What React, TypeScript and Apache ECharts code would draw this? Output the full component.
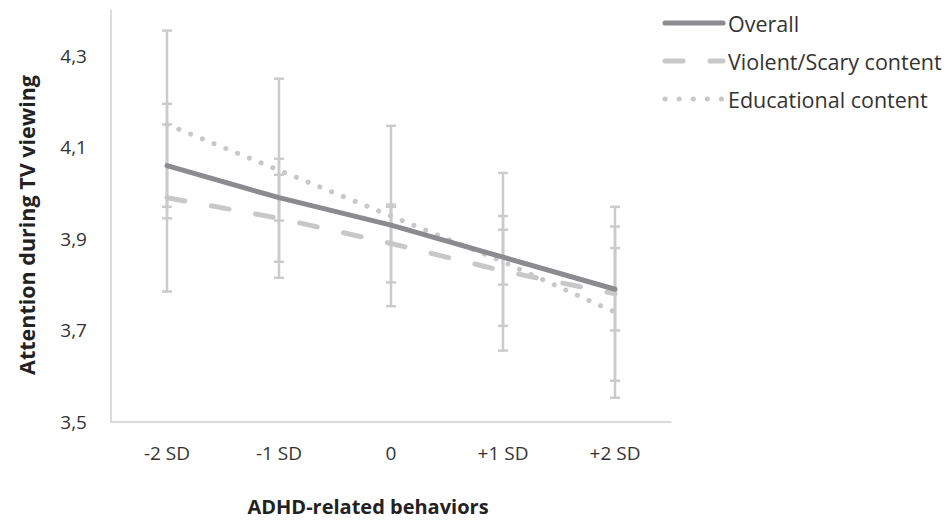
import React, { useEffect, useRef } from "react";
import * as echarts from "echarts";

const categories = ["-2 SD", "-1 SD", "0", "+1 SD", "+2 SD"];
const overallMean = [4.06, 3.99, 3.93, 3.86, 3.79];
const overallErr = [0.09, 0.05, 0.04, 0.06, 0.09];
const violentMean = [3.99, 3.945, 3.89, 3.83, 3.78];
const violentErr = [0.205, 0.13, 0.085, 0.12, 0.19];
const educMean = [4.15, 4.05, 3.95, 3.85, 3.74];
const educErr = [0.205, 0.2, 0.197, 0.194, 0.187];
const seriesNames = ["Overall", "Violent/Scary content", "Educational content"];
const xTitle = "ADHD-related behaviors";
const yTitle = "Attention during TV viewing";

const FONT = "'Open Sans', 'Noto Sans', sans-serif";
const TEXT_COLOR = "#333333";
const BAR_COLOR = "#cbcbcb";
const OVERALL_COLOR = "#8c8c90";
const VIOLENT_COLOR = "#c8c8c8";
const EDUC_COLOR = "#c8c8c8";
const VIOLENT_DASH = [18, 27];
const EDUC_DASH = [0.1, 12.6];

function errData(mean: number[], err: number[]) {
  return mean.map((m, i) => [i, m - err[i], m + err[i]]);
}

function errSeries(mean: number[], err: number[]) {
  return {
    type: "custom",
    z: 1,
    silent: true,
    data: errData(mean, err),
    renderItem: (params: any, api: any) => {
      const x = api.value(0);
      const lo = api.coord([x, api.value(1)]);
      const hi = api.coord([x, api.value(2)]);
      const hw = 5;
      const style = { stroke: BAR_COLOR, lineWidth: 2.5 };
      return {
        type: "group",
        children: [
          { type: "line", shape: { x1: lo[0], y1: lo[1], x2: hi[0], y2: hi[1] }, style },
          { type: "line", shape: { x1: lo[0] - hw, y1: lo[1], x2: lo[0] + hw, y2: lo[1] }, style },
          { type: "line", shape: { x1: hi[0] - hw, y1: hi[1], x2: hi[0] + hw, y2: hi[1] }, style },
        ],
      };
    },
  };
}

function legendItem(i: number, y: number, stroke: string, dash: number[] | null) {
  return [
    {
      type: "line",
      silent: true,
      shape: { x1: 665, y1: y, x2: 723, y2: y },
      style: { stroke, lineWidth: 5, lineCap: "round", lineDash: dash || undefined },
    },
    {
      type: "text",
      silent: true,
      x: 728,
      y,
      style: {
        text: seriesNames[i],
        font: `21.5px ${FONT}`,
        fill: TEXT_COLOR,
        verticalAlign: "middle",
        textAlign: "left",
      },
    },
  ];
}

export default function App() {
  const ref = useRef<HTMLDivElement>(null);
  useEffect(() => {
    if (!ref.current) return;
    const chart = echarts.init(ref.current, null, { renderer: "svg" });
    chart.setOption({
      animation: false,
      grid: { left: 111, right: 280, top: 10, bottom: 98 },
      graphic: [
        ...legendItem(0, 23, OVERALL_COLOR, null),
        ...legendItem(1, 61, VIOLENT_COLOR, VIOLENT_DASH),
        ...legendItem(2, 99, EDUC_COLOR, [0.1, 14]),
        {
          type: "text",
          silent: true,
          x: 368,
          y: 506,
          style: {
            text: xTitle,
            font: `bold 20px ${FONT}`,
            fill: "#222",
            textAlign: "center",
            verticalAlign: "middle",
          },
        },
        {
          type: "text",
          silent: true,
          x: 26,
          y: 225,
          rotation: Math.PI / 2,
          style: {
            text: yTitle,
            font: `bold 21.5px ${FONT}`,
            fill: "#222",
            textAlign: "center",
            verticalAlign: "middle",
          },
        },
      ],
      xAxis: {
        type: "category",
        data: categories,
        boundaryGap: true,
        axisLine: { lineStyle: { color: "#d0d0d0", width: 1.5 } },
        axisTick: { show: false },
        axisLabel: { fontFamily: FONT, fontSize: 19, color: TEXT_COLOR, margin: 21 },
      },
      yAxis: {
        type: "value",
        min: 3.5,
        max: 4.4,
        interval: 0.1,
        axisLine: { show: true, lineStyle: { color: "#d0d0d0", width: 1.5 } },
        axisTick: { show: false },
        splitLine: { show: false },
        axisLabel: {
          fontFamily: FONT,
          fontSize: 19,
          color: TEXT_COLOR,
          margin: 24,
          formatter: (v: number) => {
            const k = Math.round(v * 10);
            if (k % 2 === 1 && k <= 43) return (k / 10).toFixed(1).replace(".", ",");
            return "";
          },
        },
      },
      series: [
        errSeries(overallMean, overallErr),
        errSeries(violentMean, violentErr),
        errSeries(educMean, educErr),
        {
          name: seriesNames[0],
          type: "line",
          z: 4,
          data: overallMean,
          symbol: "none",
          lineStyle: { color: OVERALL_COLOR, width: 5, cap: "round" },
        },
        {
          name: seriesNames[1],
          type: "line",
          z: 3,
          data: violentMean,
          symbol: "none",
          lineStyle: { color: VIOLENT_COLOR, width: 5, type: VIOLENT_DASH, cap: "round" },
        },
        {
          name: seriesNames[2],
          type: "line",
          z: 3,
          data: educMean,
          symbol: "none",
          lineStyle: { color: EDUC_COLOR, width: 5, type: EDUC_DASH, cap: "round" },
        },
      ],
    });
    return () => chart.dispose();
  }, []);
  return <div ref={ref} style={{ width: 951, height: 520, position: "absolute", left: 0, top: 0 }} />;
}
